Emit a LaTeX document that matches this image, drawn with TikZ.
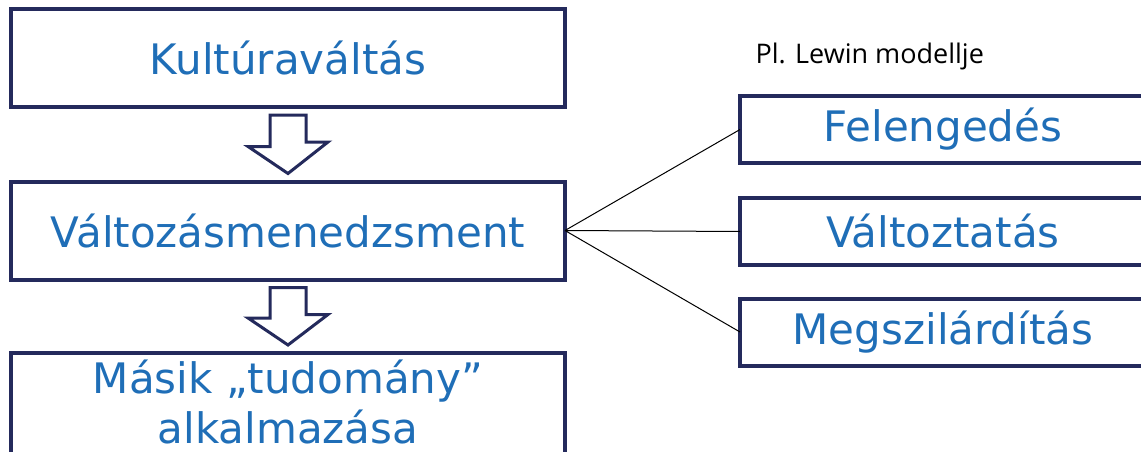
\documentclass[tikz,border=0pt]{standalone}
\usepackage{fontspec}
\setmainfont{DejaVu Sans}
\newfontfamily\notefont{Open Sans}
\usetikzlibrary{calc}
\definecolor{boxblue}{RGB}{31,110,183}
\definecolor{boxnavy}{RGB}{36,42,92}
\tikzset{
    mainbox/.style={draw=boxnavy, line width=4pt, outer sep=0pt, inner sep=0pt,
        minimum width=554pt, minimum height=98pt, text=boxblue, align=center,
        font=\fontsize{42}{50}\selectfont},
    sidebox/.style={mainbox, minimum width=406pt, minimum height=67pt},
    downarrow/.style={draw=boxnavy, fill=white, line width=3pt, line join=miter},
}
\newcommand{\downblock}[2]{%
\draw[downarrow] ($(#1.south)+(-18,8)$) -- ++(36,0) -- ++(0,27) -- ++(22,0)
    -- ($(#2.north)+(0,-8)$) -- ++(-40,-27) -- ++(22,0) -- cycle;}

\begin{document}
\begin{tikzpicture}[x=1pt, y=-1pt]
\useasboundingbox (0,0) rectangle (1141,452);
\node[mainbox] (kultura) at (288,58) {Kultúraváltás};
\node[mainbox] (valtozas) at (288,230.5) {Változásmenedzsment};
\node[mainbox, minimum height=120pt, text depth=22pt] (masik) at (288,413) {Másik „tudomány”\\alkalmazása};
\downblock{kultura}{valtozas}
\downblock{valtozas}{masik}
\node[anchor=base west, font=\notefont\fontsize{27}{32}\selectfont] (lewin) at (752,64) {Pl. Lewin modellje};
\node[sidebox] (felengedes) at (943,129.5) {Felengedés};
\node[sidebox] (valtoztatas) at (943,231.5) {Változtatás};
\node[sidebox] (megszil) at (943,332) {Megszilárdítás};
\draw[line width=1pt] (valtozas.east) -- (felengedes.west)
    (valtozas.east) -- (valtoztatas.west)
    (valtozas.east) -- (megszil.west);
\end{tikzpicture}
\end{document}
